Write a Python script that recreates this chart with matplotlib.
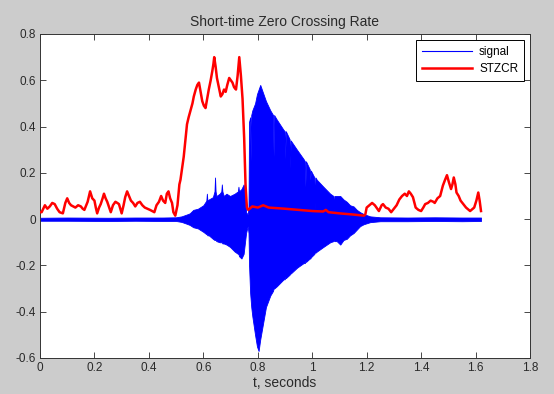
import matplotlib.pyplot as plt

# STZCR curve (seconds, rate)
zcr_t = [0.0, 0.006, 0.018, 0.027, 0.036, 0.045, 0.054, 0.063, 0.072, 0.084,
         0.093, 0.10, 0.107, 0.114, 0.122, 0.13, 0.14, 0.15, 0.157, 0.163,
         0.17, 0.175, 0.184, 0.192, 0.2, 0.205, 0.21, 0.217, 0.223, 0.23,
         0.235, 0.241, 0.247, 0.254, 0.26, 0.268, 0.277, 0.284, 0.29, 0.296,
         0.3, 0.307, 0.313, 0.32, 0.327, 0.334, 0.342, 0.35, 0.358, 0.367,
         0.376, 0.385, 0.395, 0.404, 0.412, 0.42, 0.428, 0.437, 0.445, 0.452,
         0.46, 0.466, 0.472, 0.478, 0.485, 0.49, 0.497, 0.505, 0.512, 0.516,
         0.522, 0.528, 0.534, 0.54, 0.546, 0.553, 0.56, 0.565, 0.572, 0.578,
         0.584, 0.59, 0.596, 0.602, 0.608, 0.614, 0.62, 0.627, 0.633, 0.637,
         0.64, 0.645, 0.65, 0.657, 0.664, 0.67, 0.676, 0.682, 0.688, 0.695,
         0.701, 0.707, 0.713, 0.72, 0.726, 0.732, 0.738, 0.744, 0.75, 0.755,
         0.76, 0.765, 0.78, 0.8, 0.82, 0.84, 0.9, 0.95, 1.0, 1.04,
         1.05, 1.06, 1.1, 1.15, 1.19, 1.195, 1.2, 1.21, 1.22, 1.23,
         1.245, 1.255, 1.26, 1.27, 1.28, 1.29, 1.3, 1.31, 1.32, 1.33,
         1.34, 1.348, 1.355, 1.362, 1.37, 1.38, 1.39, 1.4, 1.408, 1.415,
         1.425, 1.435, 1.445, 1.45, 1.46, 1.47, 1.48, 1.488, 1.495, 1.502,
         1.51, 1.515, 1.52, 1.526, 1.53, 1.538, 1.545, 1.555, 1.565, 1.575,
         1.58, 1.59, 1.595, 1.603, 1.61, 1.615, 1.62]
zcr_v = [0.03, 0.03, 0.06, 0.045, 0.055, 0.07, 0.065, 0.045, 0.03, 0.025,
         0.07, 0.09, 0.07, 0.06, 0.055, 0.05, 0.06, 0.055, 0.045, 0.04,
         0.06, 0.075, 0.12, 0.09, 0.08, 0.05, 0.025, 0.05, 0.065, 0.09,
         0.11, 0.09, 0.075, 0.05, 0.03, 0.06, 0.075, 0.07, 0.065, 0.04,
         0.025, 0.06, 0.095, 0.12, 0.1, 0.08, 0.07, 0.055, 0.07, 0.075,
         0.06, 0.05, 0.045, 0.04, 0.035, 0.03, 0.06, 0.075, 0.1, 0.08,
         0.07, 0.11, 0.12, 0.09, 0.07, 0.03, 0.015, 0.06, 0.15, 0.17,
         0.22, 0.27, 0.34, 0.41, 0.44, 0.47, 0.50, 0.53, 0.56, 0.58,
         0.59, 0.55, 0.51, 0.49, 0.48, 0.52, 0.56, 0.6, 0.64, 0.67,
         0.70, 0.66, 0.61, 0.57, 0.53, 0.54, 0.56, 0.55, 0.58, 0.61,
         0.6, 0.59, 0.57, 0.56, 0.62, 0.70, 0.62, 0.52, 0.35, 0.15,
         0.05, 0.04, 0.055, 0.05, 0.06, 0.05, 0.045, 0.04, 0.035, 0.033,
         0.04, 0.03, 0.025, 0.02, 0.015, 0.02, 0.05, 0.06, 0.07, 0.06,
         0.035, 0.06, 0.065, 0.05, 0.045, 0.03, 0.045, 0.06, 0.085, 0.1,
         0.11, 0.1, 0.12, 0.11, 0.095, 0.05, 0.04, 0.035, 0.05, 0.065,
         0.07, 0.08, 0.075, 0.07, 0.09, 0.1, 0.145, 0.17, 0.19, 0.16,
         0.13, 0.15, 0.18, 0.15, 0.115, 0.1, 0.08, 0.065, 0.05, 0.04,
         0.035, 0.045, 0.05, 0.08, 0.115, 0.08, 0.035]

# speech signal, drawn as its upper / lower envelope
sig_t = [0.0, 0.1, 0.25, 0.35, 0.45, 0.5, 0.52, 0.539, 0.55, 0.563,
         0.58, 0.6, 0.611, 0.613, 0.615, 0.62, 0.635, 0.641, 0.643, 0.645,
         0.648, 0.66, 0.666, 0.668, 0.67, 0.675, 0.685, 0.698, 0.715, 0.727,
         0.729, 0.731, 0.74, 0.748, 0.753, 0.757, 0.763, 0.766, 0.768, 0.772,
         0.774, 0.776, 0.78, 0.79, 0.797, 0.803, 0.809, 0.815, 0.821, 0.83,
         0.846, 0.856, 0.858, 0.86, 0.870, 0.895, 0.899, 0.901, 0.903, 0.917,
         0.919, 0.921, 0.944, 0.968, 0.973, 0.975, 0.977, 0.991, 0.993, 0.995,
         1.008, 1.01, 1.012, 1.017, 1.041, 1.066, 1.078, 1.08, 1.082, 1.09,
         1.103, 1.115, 1.127, 1.139, 1.152, 1.164, 1.176, 1.189, 1.213, 1.25,
         1.35, 1.45, 1.55, 1.62]
sig_top = [0.006, 0.007, 0.006, 0.007, 0.007, 0.008, 0.012, 0.02, 0.025, 0.04,
           0.045, 0.06, 0.08, 0.11, 0.08, 0.085, 0.095, 0.12, 0.18, 0.12,
           0.1, 0.11, 0.12, 0.15, 0.12, 0.1, 0.11, 0.1, 0.11, 0.12,
           0.14, 0.12, 0.13, 0.15, 0.12, 0.03, 0.02, 0.05, 0.42, 0.44,
           0.25, 0.45, 0.47, 0.5, 0.54, 0.56, 0.58, 0.56, 0.54, 0.51,
           0.47, 0.45, 0.27, 0.45, 0.43, 0.385, 0.38, 0.26, 0.38, 0.345,
           0.22, 0.34, 0.30, 0.26, 0.25, 0.14, 0.25, 0.215, 0.17, 0.21,
           0.18, 0.04, 0.18, 0.17, 0.14, 0.11, 0.1, 0.04, 0.1, 0.1,
           0.1, 0.085, 0.075, 0.06, 0.055, 0.04, 0.03, 0.022, 0.012, 0.008,
           0.007, 0.008, 0.007, 0.007]
sig_bot = [-0.007, -0.007, -0.008, -0.007, -0.008, -0.008, -0.012, -0.02, -0.025, -0.035,
           -0.04, -0.055, -0.065, -0.065, -0.07, -0.07, -0.085, -0.09, -0.09, -0.09,
           -0.095, -0.1, -0.1, -0.1, -0.105, -0.105, -0.11, -0.12, -0.14, -0.15,
           -0.15, -0.16, -0.17, -0.15, -0.1, -0.06, -0.03, -0.06, -0.2, -0.32,
           -0.35, -0.38, -0.42, -0.5, -0.55, -0.57, -0.52, -0.48, -0.44, -0.38,
           -0.33, -0.31, -0.3, -0.3, -0.29, -0.26, -0.26, -0.25, -0.255, -0.24,
           -0.235, -0.235, -0.21, -0.19, -0.19, -0.18, -0.185, -0.17, -0.17, -0.165,
           -0.15, -0.14, -0.145, -0.14, -0.12, -0.1, -0.095, -0.09, -0.095, -0.095,
           -0.11, -0.09, -0.085, -0.07, -0.06, -0.045, -0.03, -0.022, -0.013, -0.009,
           -0.009, -0.008, -0.009, -0.008]

xticks = [0, 0.2, 0.4, 0.6, 0.8, 1, 1.2, 1.4, 1.6, 1.8]
xlabels = ["0", "0.2", "0.4", "0.6", "0.8", "1", "1.2", "1.4", "1.6", "1.8"]
yticks = [-0.6, -0.4, -0.2, 0, 0.2, 0.4, 0.6, 0.8]
ylabels = ["-0.6", "-0.4", "-0.2", "0", "0.2", "0.4", "0.6", "0.8"]

plt.rcParams['font.family'] = ['Liberation Sans', 'DejaVu Sans']

fig = plt.figure(figsize=(5.54, 3.94), dpi=100, facecolor="#cccccc")
ax = fig.add_axes([40/554, 36/394, 490/554, 324/394])

ax.fill_between(sig_t, sig_bot, sig_top, color="blue", lw=0.6, zorder=2)
ax.plot([], [], color="blue", lw=0.8, label="signal")
ax.plot(zcr_t, zcr_v, color="red", lw=1.8, zorder=3, label="STZCR")

ax.set_xlim(0, 1.8)
ax.set_ylim(-0.6, 0.8)
ax.set_xticks(xticks)
ax.set_xticklabels(xlabels)
ax.set_yticks(yticks)
ax.set_yticklabels(ylabels)
ax.tick_params(direction="in", top=True, right=True, length=4, width=0.6,
               labelsize=8.5, colors="#2a2a2a", pad=3)
for s in ax.spines.values():
    s.set_linewidth(0.7)
    s.set_color("#333333")

ax.set_title("Short-time Zero Crossing Rate", fontsize=10, color="#2a2a2a", pad=6)
ax.set_xlabel("t, seconds", fontsize=10, color="#2a2a2a", labelpad=1)

leg = ax.legend(loc="upper right", fontsize=8.5, fancybox=False, framealpha=1,
                edgecolor="black", handlelength=4.2, borderaxespad=0.5,
                borderpad=0.5, labelspacing=0.45, handletextpad=0.6)
leg.get_frame().set_linewidth(0.7)

fig.savefig("out.png", dpi=100, facecolor=fig.get_facecolor())
